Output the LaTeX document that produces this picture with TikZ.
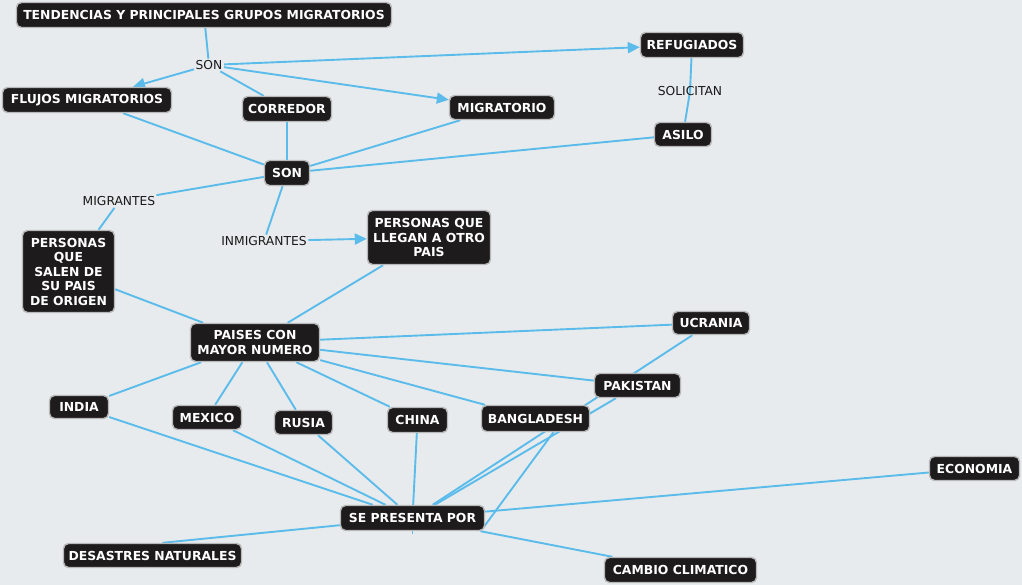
\documentclass[tikz,border=0pt]{standalone}
\usepackage{fontspec}
\setmainfont{DejaVu Sans}
\usetikzlibrary{arrows.meta}
\definecolor{bgc}{HTML}{E7EBED}
\definecolor{lnk}{HTML}{5BBCEB}
\definecolor{boxc}{HTML}{1D1B1B}
\definecolor{bord}{HTML}{B8B8B8}
\pgfdeclarelayer{back}
\pgfdeclarelayer{lines}
\pgfsetlayers{back,lines,main}
\begin{document}
\begin{tikzpicture}[x=1pt,y=-1pt,
 concept/.style={draw=bord, line width=1.4pt, fill=boxc, rounded corners=5pt, text=white,
   font=\fontsize{12.4}{14.5}\selectfont\bfseries, inner sep=0pt, align=center},
 phrase/.style={text=black!90, font=\fontsize{12.3}{14.5}\selectfont, inner sep=1.5pt},
 link/.style={draw=lnk, line width=1.9pt},
 arr/.style={link, -{Triangle[length=12pt,width=11pt]}}]
\begin{pgfonlayer}{back}
\fill[bgc] (0,0) rectangle (1022,585);
\end{pgfonlayer}
\useasboundingbox (0,0) rectangle (1022,585);

% concepts
\node[concept, minimum width=375, minimum height=25] (tend) at (204,15) {TENDENCIAS Y PRINCIPALES GRUPOS MIGRATORIOS};
\node[concept, minimum width=103, minimum height=25] (ref) at (692,45) {REFUGIADOS};
\node[concept, minimum width=169, minimum height=25] (flujos) at (87,100) {FLUJOS MIGRATORIOS};
\node[concept, minimum width=89, minimum height=25] (corr) at (287,109) {CORREDOR};
\node[concept, minimum width=105, minimum height=24] (migr) at (502,107.5) {MIGRATORIO};
\node[concept, minimum width=57, minimum height=24] (asilo) at (683,134.5) {ASILO};
\node[concept, minimum width=45, minimum height=25] (son) at (287,173) {SON};
\node[concept, minimum width=123, minimum height=54] (llegan) at (429,237.5) {PERSONAS QUE\\LLEGAN A OTRO\\PAIS};
\node[concept, minimum width=92, minimum height=82] (salen) at (68.5,271.5) {PERSONAS\\QUE\\SALEN DE\\SU PAIS\\DE ORIGEN};
\node[concept, minimum width=129, minimum height=38] (paises) at (255,342.5) {PAISES CON\\MAYOR NUMERO};
\node[concept, minimum width=77, minimum height=23] (ucr) at (711,323) {UCRANIA};
\node[concept, minimum width=86, minimum height=24] (pak) at (637.5,385.5) {PAKISTAN};
\node[concept, minimum width=59, minimum height=23] (india) at (79,407) {INDIA};
\node[concept, minimum width=69, minimum height=24] (mexico) at (207,417.5) {MEXICO};
\node[concept, minimum width=58, minimum height=24] (rusia) at (303.5,422.5) {RUSIA};
\node[concept, minimum width=60, minimum height=25] (china) at (417.5,420) {CHINA};
\node[concept, minimum width=108, minimum height=26] (bang) at (535.5,418.5) {BANGLADESH};
\node[concept, minimum width=90, minimum height=24] (eco) at (974.5,468.5) {ECONOMIA};
\node[concept, minimum width=144, minimum height=25] (sepres) at (412.5,518) {SE PRESENTA POR};
\node[concept, minimum width=178, minimum height=24] (desas) at (152.5,555.5) {DESASTRES NATURALES};
\node[concept, minimum width=152, minimum height=25] (cambio) at (680.5,570) {CAMBIO CLIMATICO};

% linking phrases
\node[phrase] (sonl) at (209,65) {SON};
\node[phrase] (sol) at (690,91.5) {SOLICITAN};
\node[phrase] (migl) at (119,201.5) {MIGRANTES};
\node[phrase] (inml) at (264,241) {INMIGRANTES};
\coordinate (hid) at (483,528);

\begin{pgfonlayer}{lines}
\draw[link] (tend) -- (sonl);
\draw[arr] (sonl) -- (flujos);
\draw[link] (sonl) -- (corr);
\draw[arr] (sonl) -- (migr);
\draw[arr] (sonl) -- (ref);
\draw[link] (ref) -- (sol.center) -- (asilo);
\draw[link] (flujos) -- (son);
\draw[link] (corr) -- (son);
\draw[link] (migr) -- (son);
\draw[link] (asilo) -- (son);
\draw[link] (son) -- (migl);
\draw[link] (migl) -- (salen);
\draw[link] (son) -- (inml);
\draw[arr] (inml) -- (llegan);
\draw[link] (salen) -- (paises);
\draw[link] (llegan) -- (paises);
\draw[link] (paises) -- (ucr);
\draw[link] (paises) -- (pak);
\draw[link] (paises) -- (bang);
\draw[link] (paises) -- (china);
\draw[link] (paises) -- (rusia);
\draw[link] (paises) -- (mexico);
\draw[link] (paises) -- (india);
\draw[link] (ucr) -- (sepres);
\draw[link] (pak) -- (sepres);
\draw[link] ([xshift=18pt]bang.south) -- (hid);
\draw[link] (india) -- (sepres);
\draw[link] (mexico) -- (sepres);
\draw[link] (rusia) -- (sepres);
\draw[link] (china) -- (sepres);
\draw[link] (eco) -- (sepres);
\draw[link] (sepres) -- (cambio);
\draw[link] (sepres) -- ([xshift=10pt]desas.north);
\draw[link, line width=1pt] (sepres.south) -- ([yshift=-3pt]sepres.south);
\end{pgfonlayer}
\end{tikzpicture}
\end{document}
